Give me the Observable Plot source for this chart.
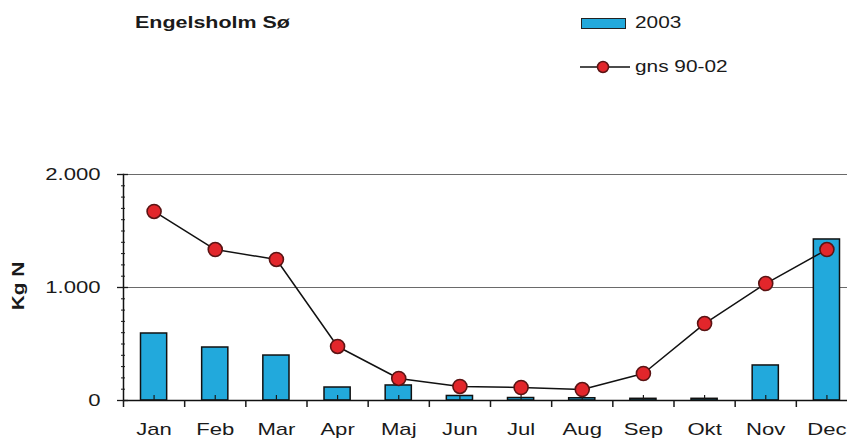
<!DOCTYPE html>
<html>
<head>
<meta charset="utf-8">
<script src="https://cdn.jsdelivr.net/npm/d3@7"></script>
<script src="https://cdn.jsdelivr.net/npm/@observablehq/plot@0.6"></script>
<style>
  html, body { margin: 0; padding: 0; background: #fff; }
  body { width: 847px; height: 440px; overflow: hidden; position: relative; font-family: "Liberation Sans", Arial, sans-serif; color: #1a1a1a; }
  #chart { position: absolute; left: 0; top: 0; width: 857px; }
  #chart svg { max-width: none !important; }
  .abs { position: absolute; white-space: nowrap; transform-origin: 0 0; }
  .stretch { transform: scaleX(1.3); }
</style>
</head>
<body>
<div class="abs stretch" style="left:135px; top:13.7px; font-weight:bold; font-size:16.5px; line-height:16.5px;">Engelsholm Sø</div>
<div id="legend"></div>
<div class="abs" style="left:19px; top:286px; font-weight:bold; font-size:16px; line-height:16px; transform-origin:50% 50%; transform: translate(-50%,-50%) rotate(-90deg) scaleX(1.3);">Kg N</div>
<div id="chart"></div>
<script>
const months = ["Jan","Feb","Mar","Apr","Maj","Jun","Jul","Aug","Sep","Okt","Nov","Dec"];
const load2003 = [593, 469, 398, 115, 133, 40, 22, 20, 15, 15, 310, 1425];
const avg9002 = [1673, 1336, 1248, 478, 195, 124, 115, 97, 239, 681, 1035, 1336];
const yMajorTicks = [0, 1000, 2000];
const seriesNames = ["2003", "gns 90-02"];

const barFill = "#22a9dc";
const dotFill = "#e2262b";
const dotStroke = "#5a1414";

const data = months.map((m, i) => ({month: m, i, v2003: load2003[i], avg: avg9002[i]}));
const fmt = d => d3.format(",")(d).replace(/,/g, ".");

const chart = Plot.plot({
  width: 857,
  height: 440,
  marginTop: 174,
  marginBottom: 40,
  marginLeft: 123,
  marginRight: 0,
  x: {domain: [0, 12]},
  y: {domain: [0, 2000]},
  style: {fontFamily: "'Liberation Sans', Arial, sans-serif", fontSize: "17px", color: "#1a1a1a", background: "transparent", overflow: "visible", maxWidth: "none"},
  marks: [
    Plot.gridY({ticks: [1000, 2000], stroke: "#6a6a6a", strokeOpacity: 1, strokeWidth: 1}),
    Plot.rectY(data, {x1: d => d.i, x2: d => d.i + 1, y: "v2003", insetLeft: 17.5, insetRight: 17.5, fill: barFill, stroke: "#111", strokeWidth: 1.5}),
    Plot.ruleY([0], {stroke: "#111", strokeWidth: 1.5}),
    Plot.frame({anchor: "left", stroke: "#111", strokeWidth: 1.5}),
    Plot.axisY({ticks: d3.range(0, 2001, 100), tickSize: 4, dx: 2, tickFormat: () => "", strokeWidth: 1}),
    Plot.axisY({ticks: yMajorTicks, tickSize: 11, dx: 5, tickFormat: () => "", strokeWidth: 1.3}),
    Plot.axisY({ticks: yMajorTicks, tickSize: 0, tickPadding: 23, tickFormat: fmt, fontSize: 17}),
    Plot.axisX({ticks: d3.range(0, 13), tickSize: 7, tickFormat: () => "", strokeWidth: 1.5}),
    Plot.axisX({ticks: months.map((m, i) => i + 0.5), tickSize: -5, tickFormat: () => "", strokeWidth: 1.2}),
    Plot.axisX({ticks: months.map((m, i) => i + 0.5), tickSize: 0, tickPadding: 22, tickFormat: d => months[Math.floor(d)], fontSize: 17}),
    Plot.line(data, {x: d => d.i + 0.5, y: "avg", stroke: "#111", strokeWidth: 1.5}),
    Plot.dot(data, {x: d => d.i + 0.5, y: "avg", r: 7, fill: dotFill, stroke: dotStroke, strokeWidth: 1.6})
  ]
});
chart.style.maxWidth = "none";
document.getElementById("chart").appendChild(chart);

// widen glyphs to match the wide face of the original
chart.querySelectorAll("text").forEach(t => {
  const len = t.getComputedTextLength();
  if (len > 0) {
    t.setAttribute("textLength", (len * 1.3).toFixed(2));
    t.setAttribute("lengthAdjust", "spacingAndGlyphs");
  }
});

// legend
const legend = document.getElementById("legend");
legend.innerHTML = `
  <div class="abs" style="left:581px; top:18px; width:45px; height:11px; box-sizing:border-box; background:${barFill}; border:1.5px solid #222;"></div>
  <div class="abs stretch" style="left:635px; top:14.5px; font-size:16px; line-height:16px;">${seriesNames[0]}</div>
  <svg class="abs" style="left:580px; top:60px;" width="52" height="14">
    <line x1="0" x2="50" y1="7" y2="7" stroke="#111" stroke-width="1.5"/>
    <circle cx="23" cy="7" r="5.5" fill="${dotFill}" stroke="${dotStroke}" stroke-width="1.5"/>
  </svg>
  <div class="abs stretch" style="left:635px; top:58.5px; font-size:16px; line-height:16px;">${seriesNames[1]}</div>
`;
</script>
</body>
</html>
